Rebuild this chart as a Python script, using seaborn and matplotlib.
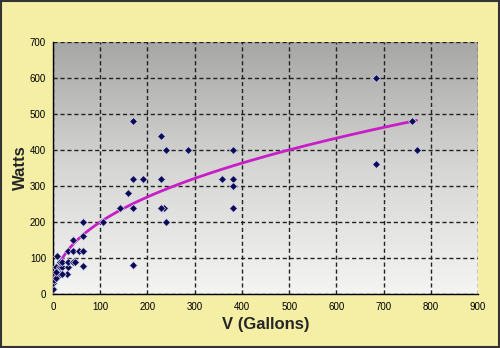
import numpy as np
import pandas as pd
import matplotlib
matplotlib.use("Agg")
import matplotlib.pyplot as plt
import seaborn as sns
from matplotlib.patches import Rectangle
from matplotlib.colors import LinearSegmentedColormap

# ---- data ----
volume_gal = [0, 1, 3, 6, 9, 6, 15, 20, 32, 30, 15, 20, 6, 15, 20, 32, 42, 47,
              63, 42, 32, 43, 54, 64, 63, 64, 105, 142, 158, 170, 170, 170, 170,
              190, 228, 234, 228, 228, 240, 240, 285, 357, 381, 381, 381, 381,
              685, 685, 760, 770]
watts = [14, 30, 40, 44, 105, 75, 75, 75, 75, 55, 55, 55, 62, 88, 90, 90, 88, 88,
         78, 150, 120, 120, 120, 120, 160, 200, 200, 240, 280, 480, 320, 240, 80,
         320, 440, 240, 320, 240, 400, 200, 400, 320, 400, 320, 300, 240,
         600, 360, 480, 400]

# power trendline W = a * V^b
trend_a = 27.5
trend_b = 0.431

x_ticks = [0, 100, 200, 300, 400, 500, 600, 700, 800, 900]
y_ticks = [0, 100, 200, 300, 400, 500, 600, 700]

df = pd.DataFrame({"V (Gallons)": volume_gal, "Watts": watts})
tv = np.linspace(min(volume_gal) + 1, max(volume_gal), 300)
trend = pd.DataFrame({"V": tv, "W": trend_a * tv ** trend_b})

sns.set_style("white")
plt.rcParams["font.family"] = ["Liberation Sans", "DejaVu Sans"]

fig = plt.figure(figsize=(5.0, 3.48), dpi=100, facecolor="#f5efa6")
ax = fig.add_axes([0.106, 0.155, 0.85, 0.724])

# gradient plot area (white at bottom to grey at top)
grad = np.linspace(0, 1, 256).reshape(-1, 1)
cmap = LinearSegmentedColormap.from_list("g", ["#f4f5f2", "#d6d6d4", "#a7a7a5"])
ax.imshow(grad, cmap=cmap, origin="lower", extent=[0, 900, 0, 700],
          aspect="auto", zorder=0, interpolation="bicubic")

ax.set_axisbelow(True)
ax.grid(True, color="#222222", linestyle=(0, (3, 2)), linewidth=1.0)

sns.lineplot(data=trend, x="V", y="W", ax=ax, color="#c81ec8", linewidth=2.0,
             zorder=3)
sns.scatterplot(data=df, x="V (Gallons)", y="Watts", ax=ax, marker="D", s=16,
                color="#0b0b55", edgecolor="#d8d8f0", linewidth=0.5, zorder=4)

ax.set_xlim(0, 900)
ax.set_ylim(0, 700)
ax.set_xticks(x_ticks)
ax.set_yticks(y_ticks)
ax.tick_params(axis="both", labelsize=7, length=3, width=0.8, direction="out",
               colors="black", pad=2)
ax.tick_params(axis="x", pad=3)
for s in ["top", "right"]:
    ax.spines[s].set_visible(False)
for s in ["left", "bottom"]:
    ax.spines[s].set_color("black")
    ax.spines[s].set_linewidth(1.0)

ax.set_xlabel("V (Gallons)", fontsize=12, fontweight="bold", labelpad=3)
ax.set_ylabel("Watts", fontsize=12, fontweight="bold", labelpad=1)

fig.patches.append(Rectangle((0.002, 0.003), 0.995, 0.994, transform=fig.transFigure,
                             fill=False, edgecolor="#333333", linewidth=1.5))

fig.savefig("out.png", dpi=100, facecolor=fig.get_facecolor())
